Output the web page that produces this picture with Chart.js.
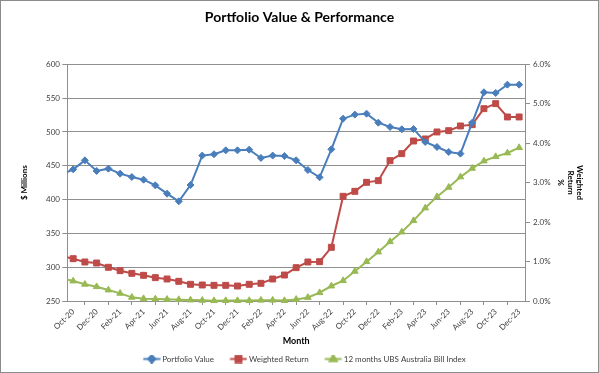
<!DOCTYPE html>
<html>
<head>
<meta charset="utf-8">
<script src="https://cdn.jsdelivr.net/npm/chart.js@4.4.1/dist/chart.umd.min.js"></script>
<style>
  html, body { margin: 0; padding: 0; background: #ffffff; }
  canvas { display: block; }
</style>
</head>
<body>
<canvas id="c" width="599" height="373"></canvas>
<script>
// Categories (first one, Sep-20, lies just outside the visible axis; only its line stub shows)
const months = ['Sep-20','Oct-20','Nov-20','Dec-20','Jan-21','Feb-21','Mar-21','Apr-21','May-21','Jun-21','Jul-21',
  'Aug-21','Sep-21','Oct-21','Nov-21','Dec-21','Jan-22','Feb-22','Mar-22','Apr-22','May-22','Jun-22','Jul-22',
  'Aug-22','Sep-22','Oct-22','Nov-22','Dec-22','Jan-23','Feb-23','Mar-23','Apr-23','May-23','Jun-23','Jul-23',
  'Aug-23','Sep-23','Oct-23','Nov-23','Dec-23'];

// Portfolio Value ($ Millions)
const portfolioValue = [437, 444.7, 458, 442.3, 445.7, 438.3, 433.4, 429.4, 421, 408.7, 397.4, 421.5, 465, 467,
  472.8, 472.8, 473.8, 461.5, 465, 464.4, 458, 443.7, 432.9, 474.3, 519.6, 525.6, 527, 513.7, 507.3, 503.9,
  504.4, 485.1, 477.7, 470.4, 467.9, 513.7, 558.6, 557.6, 569.9, 569.9];

// Weighted Return (%)
const weightedReturn = [1.14, 1.073, 0.989, 0.963, 0.854, 0.769, 0.701, 0.651, 0.592, 0.558, 0.499, 0.423, 0.406,
  0.397, 0.397, 0.380, 0.423, 0.448, 0.558, 0.659, 0.845, 0.989, 0.997, 1.361, 2.654, 2.780, 3.008, 3.051,
  3.558, 3.735, 4.056, 4.107, 4.285, 4.318, 4.437, 4.470, 4.876, 5.003, 4.665, 4.665];

// 12 months UBS Australia Bill Index (%)
const billIndex = [0.575, 0.507, 0.423, 0.363, 0.279, 0.194, 0.093, 0.059, 0.051, 0.042, 0.034, 0.025, 0.017,
  0.008, 0.01, 0.01, 0.01, 0.02, 0.02, 0.01, 0.04, 0.09, 0.21, 0.38, 0.515, 0.752, 0.997, 1.242, 1.504, 1.749,
  2.037, 2.358, 2.645, 2.882, 3.144, 3.363, 3.549, 3.659, 3.752, 3.887];

const seriesNames = ['Portfolio Value', 'Weighted Return', '12 months UBS Australia Bill Index'];
const leftTicks = { min: 250, max: 600, step: 50 };
const rightTicks = { min: 0, max: 6, step: 1 };

const BLUE = '#4A7EBB', RED = '#BE4B48', GREEN = '#98B954';
const FONT = 'Lato, "Open Sans", "Liberation Sans", sans-serif';
const TXT = '#404040';
const GRID = '#8f8f8f';

function legendImage(color, style, r) {
  const cv = document.createElement('canvas');
  cv.width = 30; cv.height = 9;
  const g = cv.getContext('2d');
  g.strokeStyle = color; g.fillStyle = color; g.lineWidth = 2;
  g.beginPath(); g.moveTo(12.5, 4.5); g.lineTo(29.5, 4.5); g.stroke();
  Chart.helpers.drawPoint(g, { pointStyle: style, radius: r, rotation: 0, borderWidth: 1 }, 21, 4.5);
  g.fill(); g.stroke();
  return cv;
}

const borderPlugin = {
  id: 'outerBorder',
  afterDraw(chart) {
    const c = chart.ctx;
    c.save();
    c.strokeStyle = '#8c8c8c';
    c.lineWidth = 1;
    c.strokeRect(0.5, 0.5, chart.width - 1, chart.height - 1);
    c.restore();
  }
};

function build() {
  const imgs = [legendImage(BLUE, 'rectRot', 3.5), legendImage(RED, 'rect', 4.2), legendImage(GREEN, 'triangle', 3.8)];
  const clipArea = { left: 0, right: 8, top: 8, bottom: 8 };
  new Chart(document.getElementById('c'), {
    type: 'line',
    data: {
      labels: months,
      datasets: [
        { label: seriesNames[0], data: portfolioValue, yAxisID: 'y', borderColor: BLUE, backgroundColor: BLUE,
          borderWidth: 2, pointStyle: 'rectRot', pointRadius: 3.5, pointBorderWidth: 1, tension: 0, clip: clipArea },
        { label: seriesNames[1], data: weightedReturn, yAxisID: 'y1', borderColor: RED, backgroundColor: RED,
          borderWidth: 2, pointStyle: 'rect', pointRadius: 4.2, pointBorderWidth: 1, tension: 0, clip: clipArea },
        { label: seriesNames[2], data: billIndex, yAxisID: 'y1', borderColor: GREEN, backgroundColor: GREEN,
          borderWidth: 2, pointStyle: 'triangle', pointRadius: 3.8, pointBorderWidth: 1, tension: 0, clip: clipArea }
      ]
    },
    options: {
      responsive: false,
      animation: false,
      devicePixelRatio: 1,
      layout: { padding: 0 },
      plugins: {
        tooltip: { enabled: false },
        title: {
          display: true,
          text: 'Portfolio Value & Performance',
          color: '#000000',
          font: { family: FONT, size: 14, weight: 'bold', lineHeight: 1.2 },
          padding: { top: 8.6, bottom: 38.9 }
        },
        legend: {
          position: 'bottom',
          labels: {
            usePointStyle: true,
            pointStyleWidth: 25,
            boxHeight: 8,
            padding: 6,
            color: TXT,
            font: { family: FONT, size: 8 },
            generateLabels(chart) {
              const items = Chart.defaults.plugins.legend.labels.generateLabels(chart);
              items.forEach(it => { it.pointStyle = imgs[it.datasetIndex]; it.rotation = 0; });
              return items;
            }
          }
        }
      },
      scales: {
        x: {
          type: 'category',
          min: 'Oct-20',
          offset: true,
          border: { display: true, color: GRID },
          grid: { display: true, offset: true, drawOnChartArea: false, drawTicks: true, tickLength: 4, color: GRID },
          ticks: {
            autoSkip: false, minRotation: 45, maxRotation: 45, padding: 2,
            color: TXT, font: { family: FONT, size: 8 },
            callback(value, index) { return index % 2 === 0 ? this.getLabelForValue(value) : null; }
          },
          title: { display: true, text: 'Month', color: '#000000',
            font: { family: FONT, size: 9, weight: 'bold', lineHeight: 1.2 }, padding: { top: 0, bottom: 2.9 } },
          afterFit(scale) { scale.height = 48; }
        },
        y: {
          position: 'left',
          min: leftTicks.min, max: leftTicks.max,
          border: { display: true, color: GRID },
          grid: { color: GRID, lineWidth: 1, tickLength: 5 },
          ticks: { stepSize: leftTicks.step, padding: 2.3, color: TXT, font: { family: FONT, size: 8 } },
          title: { display: true, text: '$ Millions', color: '#000000',
            font: { family: FONT, size: 8, weight: 'bold', lineHeight: 1.2 }, padding: { top: 19.2, bottom: 0 } },
          afterFit(scale) { scale.width = 67.3; }
        },
        y1: {
          position: 'right',
          min: rightTicks.min, max: rightTicks.max,
          border: { display: true, color: GRID },
          grid: { drawOnChartArea: false, color: GRID, tickLength: 5 },
          ticks: { stepSize: rightTicks.step, padding: 3, color: TXT, font: { family: FONT, size: 8 },
            callback(v) { return Number(v).toFixed(1) + '%'; } },
          title: { display: true, text: ['Weighted', 'Return', '%'], color: '#000000',
            font: { family: FONT, size: 8, weight: 'bold', lineHeight: 1.2 }, padding: { top: 14.2, bottom: 0 } },
          afterFit(scale) { scale.width = 74; }
        }
      }
    },
    plugins: [borderPlugin]
  });
}

const loads = ['bold 14px Lato', '8px Lato', 'bold 8px Lato'].map(f => document.fonts.load(f).catch(() => null));
Promise.all(loads).then(build, build);
</script>
</body>
</html>
